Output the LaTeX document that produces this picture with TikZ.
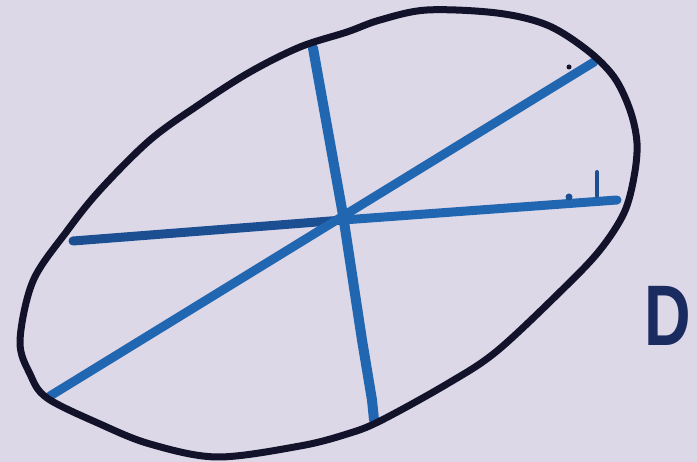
\documentclass[tikz,border=0pt]{standalone}
\usepackage{fontspec}
\setmainfont{Liberation Sans}
\definecolor{paper}{HTML}{DDD8E8}
\definecolor{ink}{HTML}{12132A}
\definecolor{marker}{HTML}{2166B0}
\definecolor{markerdark}{HTML}{1C4F92}
\definecolor{letterink}{HTML}{1A2B60}
\tikzset{
  rim/.style={draw=ink,line width=7pt,line cap=round,line join=round},
  stroke/.style={draw=marker,line width=9pt,line cap=round,line join=round},
  tick/.style={draw=markerdark,line width=4pt,line cap=round},
  letter/.style={text=letterink,font=\fontsize{86}{86}\selectfont\bfseries,inner sep=0pt}
}
\begin{document}
\begin{tikzpicture}[x=1pt,y=-1pt]
\fill[paper] (0,0) rectangle (697,462);
\useasboundingbox (0,0) rectangle (697,462);
% blue strokes
\draw[stroke,draw=markerdark] (73,241) -- (343,220);
\draw[stroke] (343,220) -- (617,200);
\draw[stroke] (50,396) -- (594,62);
\draw[stroke,line width=10pt] (313,48) -- (343,215) -- (362,340) -- (372,400) -- (374,420);
% small marks
\draw[tick] (597,172) -- (597,196);
\fill[ink] (569,67) circle (2.5);
\fill[markerdark] (569,197) circle (3.5);
% ellipse
\draw[rim] plot[smooth cycle,tension=0.55] coordinates {
  (20,341) (33,281) (67,231) (100,190) (150,140) (200,104) (250,72) (300,47)
  (347,32) (380,20) (427,10) (497,13) (547,25) (587,50) (614,77) (630,110)
  (637,143) (634,177) (624,213) (600,250) (564,288) (497,351) (447,384)
  (380,421) (347,434) (300,446) (217,457) (150,444) (100,424) (47,398) (30,374)};
\node[letter,xscale=0.75] (d) at (668,316) {D};
\end{tikzpicture}
\end{document}
